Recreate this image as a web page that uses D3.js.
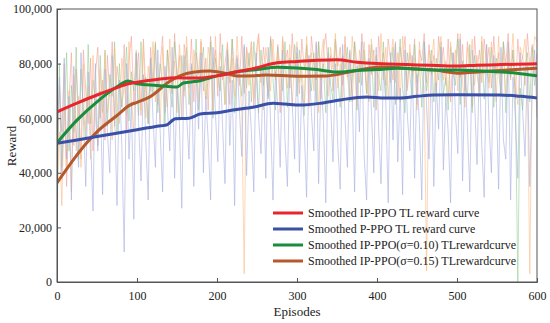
<!DOCTYPE html>
<html><head><meta charset="utf-8">
<script src="https://cdn.jsdelivr.net/npm/d3@7"></script>
<style>body{margin:0;background:#fff}svg{display:block}text{font-family:"Liberation Serif","Times New Roman",serif;fill:#222}</style>
</head><body><svg id="c" width="550" height="323"></svg>
<script>
// Raw reward (thousands), every 3 episodes from 0 to 600
const rawEpisodes = d3.range(0, 601, 3);
const rawRed = [
 40,72,55,80,35,66,84,50,78,62,45,85,70,58,82,48,76,86,60,74,
 52,83,68,88,57,79,72,64,87,55,81,90,66,75,84,61,89,70,58,86,
 73,88,65,80,90,62,85,77,69,91,74,83,60,87,79,71,89,66,84,76,
 88,70,82,63,90,78,85,68,91,74,80,87,65,89,76,83,72,90,69,86,
 79,88,64,84,91,73,86,77,68,90,82,75,87,62,89,80,85,71,91,76,
 84,69,89,78,86,64,90,81,74,88,67,85,91,77,83,70,89,79,86,72,
 90,75,84,66,88,80,73,91,82,69,87,76,85,63,90,78,84,72,89,81,
 74,88,67,86,79,90,71,84,77,89,65,85,81,91,73,87,76,83,69,90,
 80,86,72,89,66,84,78,91,75,87,70,88,82,64,90,77,85,73,89,79,
 86,71,90,76,84,68,88,80,91,74,85,67,89,78,83,72,91,79,87,75,84];
const rawBlue = [
 50,75,38,82,45,68,30,79,55,42,84,60,35,77,52,26,80,48,70,32,
 78,55,40,83,62,28,74,50,11,80,45,66,23,84,58,37,76,52,30,82,
 60,42,85,55,33,79,64,48,86,38,72,58,27,83,61,45,80,35,76,56,
 84,40,68,52,30,86,62,44,79,57,36,85,50,74,28,82,63,46,87,39,
 70,55,33,84,60,47,80,38,86,58,30,77,64,42,85,52,35,81,66,45,
 86,40,72,57,31,83,62,48,88,36,75,59,29,84,65,44,80,50,34,87,
 60,42,85,68,33,79,55,88,46,30,82,63,40,86,57,36,78,66,29,84,
 52,87,44,71,32,85,61,48,83,38,76,58,30,88,64,45,81,35,73,56,
 86,41,68,55,29,84,62,47,89,37,79,57,33,85,66,43,80,50,31,87,
 58,40,83,69,34,86,52,45,88,30,75,60,38,84,63,46,79,35,71,85,60];
const rawGreen = [
 14,80,42,60,84,48,72,55,86,45,78,63,52,87,58,74,66,50,83,62,
 85,57,76,68,88,54,80,64,72,86,59,77,70,84,61,88,66,75,58,82,
 69,87,62,80,73,58,85,71,64,88,76,60,83,70,86,65,79,74,89,63,
 78,86,67,74,88,60,82,76,70,87,65,84,73,89,62,80,77,68,86,71,
 84,66,88,75,62,85,72,80,67,89,74,63,86,78,70,88,64,82,76,87,
 68,85,73,61,87,77,70,84,65,88,74,80,62,86,72,67,89,75,64,83,
 78,86,66,74,88,63,81,72,85,69,77,87,64,83,75,70,88,67,80,73,
 86,65,78,89,71,62,84,76,68,87,73,80,64,88,70,77,85,66,82,74,
 88,69,75,63,86,78,72,89,65,81,74,68,87,62,83,76,70,88,67,80,
 73,86,64,82,77,69,88,62,80,75,85,67,0,71,63,78,84,66,86,72,78];
const rawOrange = [
 30,55,28,64,40,70,33,76,48,68,42,80,55,72,45,83,60,50,78,56,
 84,62,70,52,86,66,58,82,74,61,88,68,55,85,72,63,87,60,79,70,
 88,66,75,58,86,73,64,89,70,81,62,87,76,68,90,72,60,85,78,66,
 89,74,67,86,80,63,90,71,84,77,65,88,73,82,68,90,76,62,3,85,
 72,88,67,80,90,75,63,86,78,70,89,74,84,66,90,77,71,87,64,82,
 88,73,79,65,90,76,84,70,87,62,82,89,74,68,86,78,91,71,80,66,
 87,75,69,90,80,64,85,77,88,72,66,89,79,83,70,91,74,86,67,81,
 89,73,84,66,90,78,70,87,75,82,63,88,76,71,4,85,80,89,68,84,
 90,74,81,67,88,77,85,70,91,73,64,86,79,89,72,83,68,90,76,87,
 71,88,80,66,90,75,84,69,87,78,91,73,65,86,82,89,74,3,79,90,88];

// Smoothed curves (thousands)
const redEp = [0,25,50,75,89,100,125,150,175,200,225,250,275,300,325,350,375,400,425,450,475,500,525,550,575,600];
const redVal = [62.3,65.5,68.5,71.2,72.6,73.2,74.2,74.8,74.7,75.5,77.0,78.5,80.3,80.8,81.2,81.4,80.5,80.0,79.8,79.5,79.3,79.1,79.4,79.6,79.8,79.9];
const blueEp = [0,50,100,130,137,148,165,179,200,220,245,270,285,304,330,354,387,410,429,450,470,500,554,580,600];
const blueVal = [50.8,53.3,55.8,57.2,57.5,59.8,60.0,61.5,62.0,63.0,64.0,65.5,65.2,64.8,65.5,66.7,67.8,67.4,67.4,68.0,68.5,68.6,68.5,68.0,67.4];
const greenEp = [0,25,50,75,89,100,125,150,158,175,200,225,250,275,300,325,350,375,400,425,450,475,500,525,550,575,600];
const greenVal = [51.0,59.3,66.0,71.5,73.6,72.6,72.0,71.4,72.9,73.5,75.5,77.0,77.8,78.7,78.4,77.8,76.9,77.5,77.8,78.3,78.0,77.7,77.7,77.4,77.0,76.5,75.5];
const brownEp = [0,22,37,50,75,91,100,116,141,156,170,191,210,225,250,262,300,337,370,404,440,470,504,530,560,600];
const brownVal = [36.3,45.4,50.9,55.0,61.0,64.8,65.8,67.8,73.5,75.8,76.8,77.3,76.5,75.5,75.6,75.8,75.4,75.5,77.2,78.8,78.2,77.7,76.5,77.0,77.6,78.3];

const legendLabels = ["Smoothed IP-PPO TL reward curve","Smoothed P-PPO TL reward curve","Smoothed IP-PPO(\u03c3=0.10) TLrewardcurve","Smoothed IP-PPO(\u03c3=0.15) TLrewardcurve"];
const xTicks = [0,100,200,300,400,500,600];
const yTicks = [0,20,40,60,80,100];

const svg = d3.select("#c");
const m = {l:57, r:537, t:9, b:282};
const x = d3.scaleLinear().domain([0,600]).range([m.l, m.r]);
const y = d3.scaleLinear().domain([0,100]).range([m.b, m.t]);

svg.append("clipPath").attr("id","cp").append("rect")
  .attr("x",m.l).attr("y",m.t).attr("width",m.r-m.l).attr("height",m.b-m.t);
const g = svg.append("g").attr("clip-path","url(#cp)");

const raw = [
  {v: rawRed, c:"#f4a19a", o:0.6},
  {v: rawGreen, c:"#8cc88c", o:0.55},
  {v: rawOrange, c:"#fbbd85", o:0.6},
  {v: rawBlue, c:"#a6afe0", o:0.6}
];
const line = d3.line().x(d=>x(d[0])).y(d=>y(d[1]));
raw.forEach(s=>{
  g.append("path").attr("d", line(rawEpisodes.map((e,i)=>[e,s.v[i]])))
   .attr("fill","none").attr("stroke",s.c).attr("stroke-opacity",s.o).attr("stroke-width",1);
});

const smooth = [
  {e:brownEp, v:brownVal, c:"#b5592b"},
  {e:greenEp, v:greenVal, c:"#1a8c3c"},
  {e:blueEp, v:blueVal, c:"#3a4fa6"},
  {e:redEp, v:redVal, c:"#e6262b"}
];
const sline = d3.line().x(d=>x(d[0])).y(d=>y(d[1])).curve(d3.curveMonotoneX);
smooth.forEach(s=>{
  g.append("path").attr("d", sline(s.e.map((e,i)=>[e,s.v[i]])))
   .attr("fill","none").attr("stroke",s.c).attr("stroke-width",3).attr("stroke-linejoin","round");
});

svg.append("rect").attr("x",m.l).attr("y",m.t).attr("width",m.r-m.l).attr("height",m.b-m.t)
  .attr("fill","none").attr("stroke","#555").attr("stroke-width",1);

const xa = svg.append("g").attr("transform",`translate(0,${m.b})`)
  .call(d3.axisBottom(x).tickValues(xTicks).tickSize(-4).tickPadding(9).tickFormat(d3.format("d")));
const ya = svg.append("g").attr("transform",`translate(${m.l},0)`)
  .call(d3.axisLeft(y).tickValues(yTicks).tickSize(-4).tickPadding(5).tickFormat(d=>d3.format(",")(d*1000)));
[xa,ya].forEach(a=>{
  a.select(".domain").attr("stroke","#555");
  a.selectAll(".tick line").attr("stroke","#555");
  a.selectAll(".tick text").style("font-family",'"Liberation Serif","Times New Roman",serif').style("font-size","12px").attr("fill","#222");
});

svg.append("text").attr("x",(m.l+m.r)/2).attr("y",316).attr("text-anchor","middle").style("font-size","13px").text("Episodes");
svg.append("text").attr("transform","translate(16,146) rotate(-90)").attr("text-anchor","middle").style("font-size","13px").text("Reward");

const legColors = ["#e6262b","#3a4fa6","#1a8c3c","#b5592b"];
const lg = svg.append("g");
legendLabels.forEach((t,i)=>{
  const yy = 213 + i*16;
  lg.append("line").attr("x1",273).attr("x2",303).attr("y1",yy).attr("y2",yy).attr("stroke",legColors[i]).attr("stroke-width",3);
  lg.append("text").attr("x",308).attr("y",yy+4).style("font-size","12px").text(t);
});
</script></body></html>
